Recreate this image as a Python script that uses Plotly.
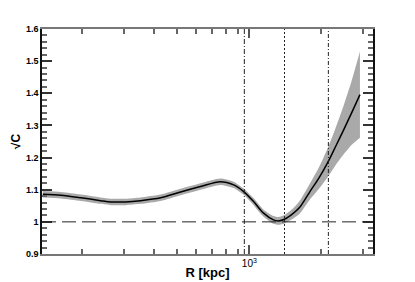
import plotly.graph_objects as go

# Data
R_kpc = [137, 163, 198, 239, 264, 304, 351, 426, 516, 625, 757, 860, 947, 1042, 1147,
         1262, 1325, 1403, 1530, 1631, 1795, 1950, 2139, 2300, 2471, 2680, 2900]
sqrtC = [1.086, 1.083, 1.075, 1.066, 1.062, 1.062, 1.066, 1.075, 1.093, 1.110, 1.125,
         1.115, 1.094, 1.063, 1.027, 1.006, 1.003, 1.008, 1.027, 1.047, 1.095, 1.135,
         1.188, 1.236, 1.284, 1.340, 1.396]
err = [0.010, 0.010, 0.010, 0.010, 0.010, 0.010, 0.010, 0.010, 0.010, 0.010, 0.010,
       0.010, 0.010, 0.011, 0.011, 0.012, 0.012, 0.013, 0.016, 0.020, 0.025, 0.033,
       0.046, 0.058, 0.075, 0.100, 0.134]
vlines = [953, 1403, 2140]
vline_dash = ["5px,2px,1px,2px", "2px,2px", "4px,2px,1px,2px"]

upper = [m + e for m, e in zip(sqrtC, err)]
lower = [m - e for m, e in zip(sqrtC, err)]

fig = go.Figure()
fig.add_trace(go.Scatter(x=R_kpc, y=upper, mode="lines",
                         line=dict(width=0, shape="spline", smoothing=0.6),
                         showlegend=False, hoverinfo="skip"))
fig.add_trace(go.Scatter(x=R_kpc, y=lower, mode="lines",
                         line=dict(width=0, shape="spline", smoothing=0.6),
                         fill="tonexty", fillcolor="#a9a9a9", showlegend=False, hoverinfo="skip"))
fig.add_trace(go.Scatter(x=R_kpc, y=sqrtC, mode="lines",
                         line=dict(color="black", width=1.5, shape="spline", smoothing=0.8),
                         showlegend=False))

fig.add_hline(y=1.0, line=dict(color="#222", width=1, dash="14px,6px"))
for xv, d in zip(vlines, vline_dash):
    fig.add_vline(x=xv, line=dict(color="#222", width=1, dash=d))

fig.update_layout(
    template="none",
    width=407, height=274,
    margin=dict(l=34, r=42, t=21, b=28),
    paper_bgcolor="white", plot_bgcolor="white",
    font=dict(family="Liberation Sans, Arial", color="black", size=9),
    xaxis=dict(type="log", range=[2.1333, 3.517], showline=True, linecolor="#777",
               linewidth=1.5, mirror="ticks", ticks="inside", ticklen=9, tickwidth=1.5,
               tickcolor="#555", automargin=False,
               dtick=1, exponentformat="power", showgrid=False, zeroline=False,
               tickfont=dict(size=8),
               minor=dict(dtick="D1", ticks="inside", ticklen=5, tickwidth=1.5,
                          tickcolor="#666", showgrid=False),
               title=dict(text="<b>R [kpc]</b>", font=dict(size=13), standoff=0)),
    yaxis=dict(range=[0.9, 1.6], showline=True, linecolor="#111", linewidth=1.5,
               mirror="ticks", ticks="inside", ticklen=10, tickwidth=1.5, tickcolor="#333",
               tick0=0.9, dtick=0.1, showgrid=False, zeroline=False, automargin=False,
               tickfont=dict(size=9, weight="bold"),
               minor=dict(tick0=0.9, dtick=0.02, ticks="inside", ticklen=5, tickwidth=1.5,
                          tickcolor="#666", showgrid=False),
               title=dict(text="<b>√C</b>", font=dict(size=12), standoff=3)),
)
fig.write_html("out.html")
